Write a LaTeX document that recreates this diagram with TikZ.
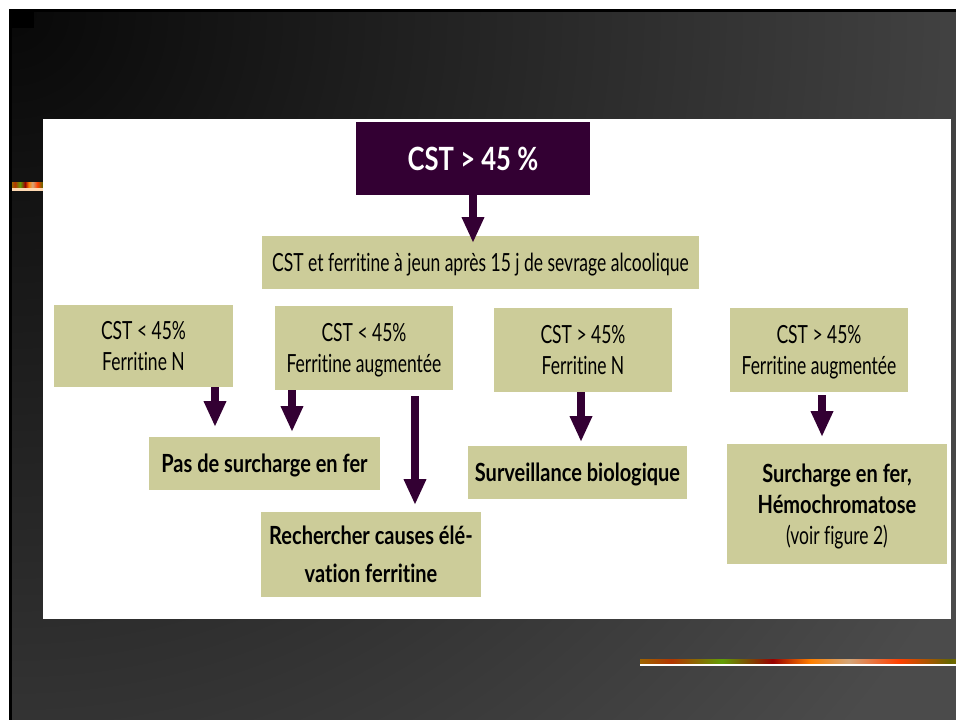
\documentclass[tikz,border=0pt]{standalone}
\usepackage{fontspec}
\setmainfont{Lato}[FakeStretch=0.70, Ligatures={NoCommon}, BoldFeatures={FakeStretch=0.80}]
\usetikzlibrary{arrows.meta}
\definecolor{olivebox}{HTML}{CCCC99}
\definecolor{purp}{HTML}{330033}
\definecolor{bggray}{HTML}{4B4B4B}
\definecolor{corner}{HTML}{080808}
\pgfdeclarehorizontalshading{stripe}{100bp}{color(0bp)=(black!0!orange!80!black);
 color(8bp)=(orange!75!black); color(14bp)=(brown!80!red); color(22bp)=(olive!70!brown);
 color(30bp)=(orange!60!red!70!black); color(38bp)=(olive!60!green!60!gray); color(46bp)=(red!60!black);
 color(52bp)=(orange); color(58bp)=(brown!70!white); color(66bp)=(orange!50!red);
 color(74bp)=(olive!80!black); color(82bp)=(orange!70!yellow!80!black); color(90bp)=(red!70!brown);
 color(100bp)=(red!60!black)}
\newcommand{\myreg}{\fontsize{25}{31}\selectfont}
\newcommand{\mybig}{\fontsize{32}{38}\selectfont\bfseries}
\tikzset{
  box/.style={rectangle, fill=olivebox, inner sep=0pt, align=center, text=black, font=\myreg, text depth=0pt},
  arr/.style={draw=purp, line width=8pt, -{Triangle[width=21pt,length=26pt]}},
}
\begin{document}
\begin{tikzpicture}[x=1pt,y=-1pt]
\useasboundingbox (0,0) rectangle (956,720);
% background
\fill[white] (0,0) rectangle (956,720);
\fill[black] (9,9) rectangle (956,720);
\fill[bggray] (12,12) rectangle (956,720);
\begin{scope}
  \clip (12,12) rectangle (956,720);
  \shade[inner color=corner, outer color=bggray] (12,12) circle (1100);
\end{scope}
\fill[black] (9,9) rectangle (34,28);
% decorative stripes
\shade[shading=stripe] (12,182) rectangle (43,188);
\fill[orange!30!white] (12,188) rectangle (43,191);
\shade[shading=stripe] (640,659) rectangle (956,664);
\fill[white] (640,664) rectangle (956,666);
% white panel
\fill[white] (43,119) rectangle (951,619);

% nodes
\node[rectangle, fill=purp, inner sep=0pt, minimum width=234pt, minimum height=73pt,
      text=white, font=\mybig, text depth=0pt] (top) at (473,158.5) {CST > 45 \%};
\node[box, minimum width=437pt, minimum height=53pt] (b0) at (480.5,262.5)
  {CST et ferritine à jeun après 15 j de sevrage alcoolique};
\node[box, minimum width=179pt, minimum height=82pt] (b1) at (143.5,346) {CST < 45\%\\Ferritine N};
\node[box, minimum width=178pt, minimum height=84pt] (b2) at (364,348) {CST < 45\%\\Ferritine augmentée};
\node[box, minimum width=178pt, minimum height=84pt] (b3) at (583,350) {CST > 45\%\\Ferritine N};
\node[box, minimum width=178pt, minimum height=84pt] (b4) at (819,350) {CST > 45\%\\Ferritine augmentée};
\node[box, minimum width=231pt, minimum height=53pt, font=\myreg\bfseries] (r1) at (264.5,463.5)
  {Pas de surcharge en fer};
\node[box, minimum width=220pt, minimum height=85pt, font=\myreg\bfseries] (r2) at (371,554.5)
  {Rechercher causes élé-\\[7pt]vation ferritine};
\node[box, minimum width=219pt, minimum height=53pt, font=\myreg\bfseries] (r3) at (577.5,472.5)
  {Surveillance biologique};
\node[box, minimum width=220pt, minimum height=120pt] (r4) at (837,504)
  {\textbf{Surcharge en fer,}\\\textbf{Hémochromatose}\\(voir figure 2)};

% arrows
\coordinate (t0) at (473,243);
\coordinate (t1) at (215,427);
\coordinate (t2) at (292,432);
\coordinate (t3) at (415,505);
\coordinate (t4) at (581,442);
\coordinate (t5) at (822,437);
\coordinate (s3) at ([yshift=-6pt]b2.south);
\coordinate (s5) at ([yshift=-3pt]b4.south);
\draw[arr] (top.south) -- (t0);
\draw[arr] (b1.south -| t1) -- (t1);
\draw[arr] (b2.south -| t2) -- (t2);
\draw[arr] (s3 -| t3) -- (t3);
\draw[arr] (b3.south -| t4) -- (t4);
\draw[arr] (s5 -| t5) -- (t5);
\end{tikzpicture}
\end{document}
